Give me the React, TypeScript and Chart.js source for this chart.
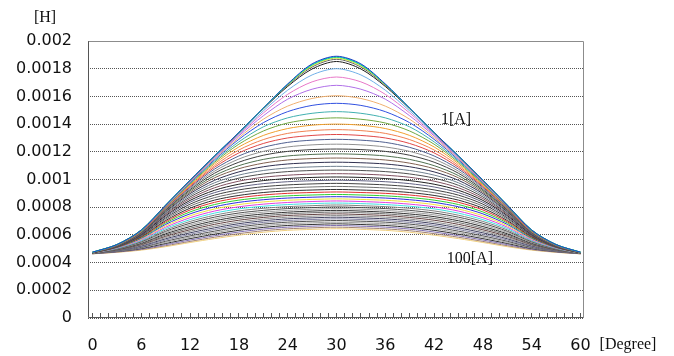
import { useEffect, useRef } from "react";
import { Chart, registerables } from "chart.js";

Chart.register(...registerables);

// Rotor position [Degree]
const degrees = [0, 3, 6, 9, 12, 15, 18, 21, 24, 27, 30, 33, 36, 39, 42, 45, 48, 51, 54, 57, 60];

// Inductance curves in micro-henry (1[A] at top ... 100[A] at bottom)
const curve01 = [475, 530, 635, 815, 995, 1170, 1340, 1515, 1690, 1835, 1890, 1835, 1690, 1515, 1340, 1170, 995, 815, 635, 530, 475];
const curve02 = [475, 530, 635, 815, 995, 1170, 1340, 1515, 1688, 1830, 1886, 1830, 1688, 1515, 1340, 1170, 995, 815, 635, 530, 475];
const curve03 = [476, 531, 636, 816, 996, 1170, 1340, 1514, 1686, 1826, 1882, 1826, 1686, 1514, 1340, 1170, 996, 816, 636, 531, 476];
const curve04 = [474, 529, 634, 814, 994, 1169, 1339, 1513, 1684, 1820, 1876, 1820, 1684, 1513, 1339, 1169, 994, 814, 634, 529, 474];
const curve05 = [473, 528, 633, 813, 993, 1168, 1338, 1512, 1680, 1812, 1868, 1812, 1680, 1512, 1338, 1168, 993, 813, 633, 528, 473];
const curve06 = [472, 528, 632, 812, 992, 1167, 1337, 1510, 1672, 1798, 1852, 1798, 1672, 1510, 1337, 1167, 992, 812, 632, 528, 472];
const curve07 = [474, 529, 633, 812, 990, 1163, 1330, 1495, 1645, 1755, 1800, 1755, 1645, 1495, 1330, 1163, 990, 812, 633, 529, 474];
const curve08 = [474, 529, 632, 811, 988, 1160, 1324, 1480, 1615, 1705, 1740, 1705, 1615, 1480, 1324, 1160, 988, 811, 632, 529, 474];
const curve09 = [474, 529, 632, 810, 986, 1156, 1315, 1460, 1580, 1652, 1680, 1652, 1580, 1460, 1315, 1156, 986, 810, 632, 529, 474];
const curve10 = [474, 528, 631, 808, 982, 1150, 1302, 1435, 1530, 1585, 1605, 1585, 1530, 1435, 1302, 1150, 982, 808, 631, 528, 474];
const curve11 = [474, 528, 630, 806, 978, 1142, 1290, 1410, 1490, 1535, 1550, 1535, 1490, 1410, 1290, 1142, 978, 806, 630, 528, 474];
const curve12 = [474, 528, 629, 804, 973, 1133, 1272, 1380, 1445, 1478, 1490, 1478, 1445, 1380, 1272, 1133, 973, 804, 629, 528, 474];
const curve13 = [474, 528, 628, 802, 968, 1124, 1255, 1350, 1408, 1435, 1445, 1435, 1408, 1350, 1255, 1124, 968, 802, 628, 528, 474];
const curve14 = [474, 527, 627, 800, 962, 1113, 1235, 1318, 1368, 1392, 1400, 1392, 1368, 1318, 1235, 1113, 962, 800, 627, 527, 474];
const curve15 = [474, 527, 626, 797, 956, 1100, 1213, 1288, 1333, 1353, 1360, 1353, 1333, 1288, 1213, 1100, 956, 797, 626, 527, 474];
const curve16 = [473, 526, 625, 794, 950, 1088, 1192, 1260, 1300, 1318, 1325, 1318, 1300, 1260, 1192, 1088, 950, 794, 625, 526, 473];
const curve17 = [473, 526, 624, 791, 943, 1075, 1170, 1232, 1268, 1284, 1290, 1284, 1268, 1232, 1170, 1075, 943, 791, 624, 526, 473];
const curve18 = [473, 525, 622, 787, 935, 1060, 1148, 1203, 1235, 1250, 1255, 1250, 1235, 1203, 1148, 1060, 935, 787, 622, 525, 473];
const curve19 = [473, 525, 621, 783, 927, 1045, 1125, 1175, 1203, 1216, 1220, 1216, 1203, 1175, 1125, 1045, 927, 783, 621, 525, 473];
const curve20 = [473, 524, 619, 779, 918, 1028, 1100, 1145, 1170, 1181, 1185, 1181, 1170, 1145, 1100, 1028, 918, 779, 619, 524, 473];
const curve21 = [473, 523, 617, 774, 908, 1012, 1078, 1118, 1141, 1151, 1155, 1151, 1141, 1118, 1078, 1012, 908, 774, 617, 523, 473];
const curve22 = [472, 522, 615, 768, 898, 994, 1055, 1092, 1112, 1121, 1125, 1121, 1112, 1092, 1055, 994, 898, 768, 615, 522, 472];
const curve23 = [472, 521, 612, 762, 886, 976, 1032, 1065, 1083, 1091, 1095, 1091, 1083, 1065, 1032, 976, 886, 762, 612, 521, 472];
const curve24 = [472, 520, 609, 755, 874, 958, 1010, 1040, 1057, 1065, 1068, 1065, 1057, 1040, 1010, 958, 874, 755, 609, 520, 472];
const curve25 = [472, 519, 606, 748, 862, 940, 988, 1016, 1031, 1039, 1042, 1039, 1031, 1016, 988, 940, 862, 748, 606, 519, 472];
const curve26 = [471, 518, 603, 740, 849, 922, 966, 992, 1007, 1015, 1018, 1015, 1007, 992, 966, 922, 849, 740, 603, 518, 471];
const curve27 = [471, 517, 600, 732, 836, 905, 946, 970, 984, 991, 995, 991, 984, 970, 946, 905, 836, 732, 600, 517, 471];
const curve28 = [471, 516, 596, 723, 822, 887, 925, 948, 961, 968, 972, 968, 961, 948, 925, 887, 822, 723, 596, 516, 471];
const curve29 = [471, 515, 592, 714, 808, 869, 905, 927, 939, 946, 950, 946, 939, 927, 905, 869, 808, 714, 592, 515, 471];
const curve30 = [470, 513, 588, 704, 793, 851, 885, 906, 918, 924, 928, 924, 918, 906, 885, 851, 793, 704, 588, 513, 470];
const curve31 = [470, 512, 584, 695, 780, 835, 868, 888, 900, 906, 910, 906, 900, 888, 868, 835, 780, 695, 584, 512, 470];
const curve32 = [470, 511, 580, 686, 766, 819, 851, 870, 882, 888, 892, 888, 882, 870, 851, 819, 766, 686, 580, 511, 470];
const curve33 = [470, 509, 575, 676, 752, 803, 835, 854, 866, 872, 876, 872, 866, 854, 835, 803, 752, 676, 575, 509, 470];
const curve34 = [469, 508, 570, 666, 738, 787, 819, 838, 850, 856, 860, 856, 850, 838, 819, 787, 738, 666, 570, 508, 469];
const curve35 = [469, 506, 565, 656, 724, 772, 803, 822, 834, 841, 845, 841, 834, 822, 803, 772, 724, 656, 565, 506, 469];
const curve36 = [469, 504, 560, 646, 710, 757, 788, 807, 819, 826, 830, 826, 819, 807, 788, 757, 710, 646, 560, 504, 469];
const curve37 = [468, 502, 555, 636, 697, 742, 773, 792, 804, 811, 816, 811, 804, 792, 773, 742, 697, 636, 555, 502, 468];
const curve38 = [468, 500, 550, 626, 684, 728, 758, 777, 790, 797, 802, 797, 790, 777, 758, 728, 684, 626, 550, 500, 468];
const curve39 = [468, 498, 545, 617, 672, 715, 745, 764, 777, 785, 790, 785, 777, 764, 745, 715, 672, 617, 545, 498, 468];
const curve40 = [467, 496, 540, 608, 660, 702, 732, 751, 764, 772, 777, 772, 764, 751, 732, 702, 660, 608, 540, 496, 467];
const curve41 = [467, 494, 535, 599, 648, 689, 719, 738, 752, 760, 765, 760, 752, 738, 719, 689, 648, 599, 535, 494, 467];
const curve42 = [467, 492, 530, 590, 637, 676, 706, 726, 740, 747, 752, 747, 740, 726, 706, 676, 637, 590, 530, 492, 467];
const curve43 = [466, 490, 525, 581, 626, 663, 693, 714, 728, 735, 740, 735, 728, 714, 693, 663, 626, 581, 525, 490, 466];
const curve44 = [466, 488, 520, 572, 615, 651, 681, 702, 716, 723, 728, 723, 716, 702, 681, 651, 615, 572, 520, 488, 466];
const curve45 = [466, 486, 515, 563, 604, 639, 669, 690, 704, 711, 716, 711, 704, 690, 669, 639, 604, 563, 515, 486, 466];
const curve46 = [465, 484, 510, 554, 593, 627, 657, 678, 692, 699, 704, 699, 692, 678, 657, 627, 593, 554, 510, 484, 465];
const curve47 = [465, 482, 506, 546, 583, 616, 645, 666, 680, 687, 692, 687, 680, 666, 645, 616, 583, 546, 506, 482, 465];
const curve48 = [465, 480, 502, 538, 573, 605, 633, 654, 668, 675, 680, 675, 668, 654, 633, 605, 573, 538, 502, 480, 465];
const curve49 = [464, 478, 498, 530, 563, 594, 621, 642, 656, 663, 668, 663, 656, 642, 621, 594, 563, 530, 498, 478, 464];
const curve50 = [464, 476, 494, 522, 553, 583, 609, 630, 644, 651, 656, 651, 644, 630, 609, 583, 553, 522, 494, 476, 464];
const curve51 = [463, 474, 490, 515, 545, 573, 598, 619, 633, 640, 645, 640, 633, 619, 598, 573, 545, 515, 490, 474, 463];

const curves = [
  curve01, curve02, curve03, curve04, curve05, curve06, curve07, curve08, curve09, curve10,
  curve11, curve12, curve13, curve14, curve15, curve16, curve17, curve18, curve19, curve20,
  curve21, curve22, curve23, curve24, curve25, curve26, curve27, curve28, curve29, curve30,
  curve31, curve32, curve33, curve34, curve35, curve36, curve37, curve38, curve39, curve40,
  curve41, curve42, curve43, curve44, curve45, curve46, curve47, curve48, curve49, curve50,
  curve51,
];

const curveColors = [
  "#2040c0", "#00c0e0", "#40e040", "#e0e040", "#606060", "#202020", "#70b0e8", "#e878c8",
  "#b070e8", "#f0b070", "#3050e0", "#40b0b0", "#70a840", "#f0a030", "#f08050", "#e04848",
  "#506090", "#909090", "#404040", "#507050", "#806050", "#303050", "#708090", "#505050",
  "#805060", "#202020", "#606080", "#404040", "#707070", "#303030", "#e03030", "#30d030",
  "#3030e0", "#f0e040", "#e040e0", "#40e0e0", "#808080", "#505050", "#a0a0a0", "#303030",
  "#707070", "#604040", "#909090", "#404060", "#8080a0", "#505050", "#a0a0a0", "#303030",
  "#8070b0", "#a08070", "#f0d080",
];

const yTickStep = 0.0002;
const xLabelStep = 6;

const boxPlugin = {
  id: "boxAndNotes",
  afterDraw(chart: any) {
    const { ctx, chartArea: a, scales } = chart;
    ctx.save();
    const l = Math.round(a.left) + 0.5;
    const t = Math.round(a.top) + 0.5;
    const r = Math.round(a.right) - 0.5;
    const b = Math.round(a.bottom) - 0.5;
    ctx.lineWidth = 1;
    ctx.strokeStyle = "#8c8c8c";
    ctx.beginPath();
    ctx.moveTo(l, t);
    ctx.lineTo(r, t);
    ctx.lineTo(r, b);
    ctx.stroke();
    ctx.strokeStyle = "#555";
    ctx.beginPath();
    ctx.moveTo(l, t);
    ctx.lineTo(l, b);
    ctx.lineTo(r, b);
    ctx.stroke();

    ctx.fillStyle = "#111";
    ctx.font = '16px "Liberation Serif", "Times New Roman", serif';
    ctx.textAlign = "center";
    ctx.textBaseline = "middle";
    ctx.fillText("[H]", 45, 18);
    ctx.fillText("[Degree]", 628, 345);
    const xs = scales.x;
    const ys = scales.y;
    ctx.fillText("1[A]", xs.getPixelForValue(44.7), ys.getPixelForValue(0.00143));
    ctx.fillText("100[A]", xs.getPixelForValue(46.4), ys.getPixelForValue(0.00043));
    ctx.restore();
  },
};

export default function App() {
  const ref = useRef<HTMLCanvasElement | null>(null);

  useEffect(() => {
    if (!ref.current) return;
    const datasets = curves.map((c, i) => ({
      label: `curve ${i + 1}`,
      data: c.map((v, k) => ({ x: degrees[k], y: v / 1e6 })),
      borderColor: curveColors[i],
      backgroundColor: curveColors[i],
      borderWidth: 1,
      pointRadius: 0,
      fill: false,
      tension: 0.3,
    }));
    const chart = new Chart(ref.current, {
      type: "line",
      data: { datasets },
      options: {
        animation: false,
        responsive: false,
        devicePixelRatio: 1,
        layout: { padding: { top: 41, right: 90, left: 0, bottom: 0 } },
        plugins: { legend: { display: false }, tooltip: { enabled: false } },
        scales: {
          x: {
            type: "linear",
            min: -0.55,
            max: 60.43,
            afterFit: (s: any) => {
              s.height = 38;
            },
            border: { display: false },
            grid: { drawOnChartArea: false, drawTicks: true, tickLength: -5, color: "#555", lineWidth: 1 },
            ticks: {
              stepSize: 1,
              autoSkip: false,
              maxRotation: 0,
              includeBounds: false,
              padding: 23,
              color: "#111",
              font: { family: '"DejaVu Sans", sans-serif', size: 16 },
              callback: (v: any) => (Number(v) % xLabelStep === 0 ? String(v) : ""),
            },
          },
          y: {
            min: 0,
            max: 0.002,
            afterFit: (s: any) => {
              s.width = 88;
            },
            border: { display: false, dash: [1, 1] },
            grid: { drawTicks: false, color: "#555", lineWidth: 1 },
            ticks: {
              stepSize: yTickStep,
              padding: 16,
              color: "#111",
              font: { family: '"DejaVu Sans", sans-serif', size: 16 },
              callback: (v: any) => parseFloat(Number(v).toFixed(4)).toString(),
            },
          },
        },
      },
      plugins: [boxPlugin],
    });
    return () => chart.destroy();
  }, []);

  return (
    <div style={{ position: "fixed", left: 0, top: 0, width: 674, height: 356, background: "#fff" }}>
      <canvas ref={ref} width={674} height={356} />
    </div>
  );
}
